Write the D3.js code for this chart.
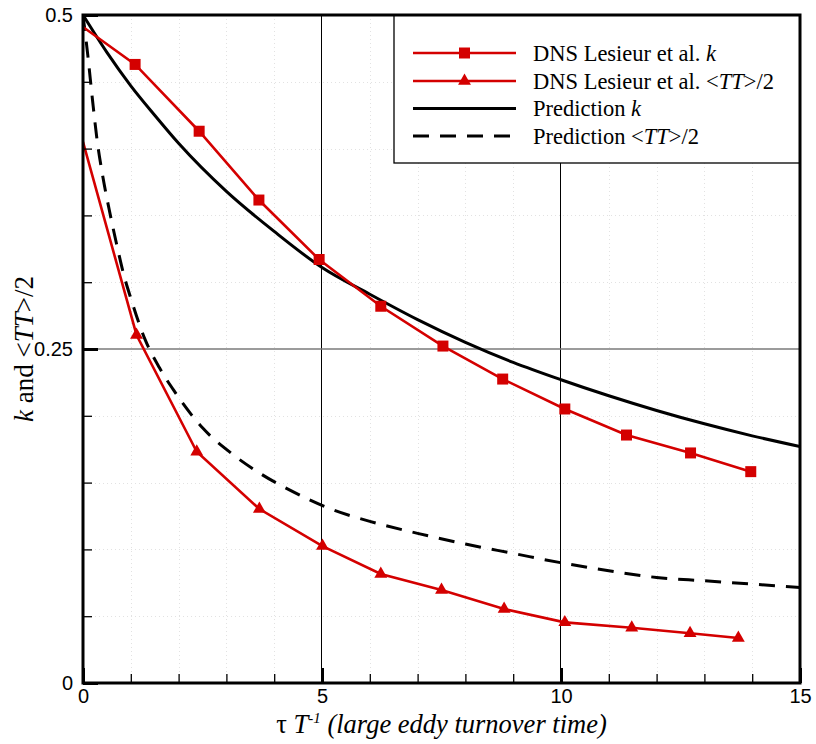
<!DOCTYPE html>
<html>
<head>
<meta charset="utf-8">
<script src="https://cdn.jsdelivr.net/npm/d3@7"></script>
<style>
  html, body { margin: 0; padding: 0; background: #fff; }
  svg { display: block; }
</style>
</head>
<body>
<svg id="chart" width="816" height="744"></svg>
<script>
// DNS (Lesieur et al.) turbulent kinetic energy k
const dnsKTime  = [0, 1.09, 2.43, 3.68, 4.94, 6.23, 7.53, 8.78, 10.08, 11.37, 12.71, 13.97];
const dnsKValue = [0.491, 0.463, 0.413, 0.3615, 0.317, 0.282, 0.2522, 0.2275, 0.2051, 0.1856, 0.1722, 0.1582];

// DNS (Lesieur et al.) <TT>/2
const dnsTTTime  = [0, 1.12, 2.38, 3.69, 5.01, 6.23, 7.50, 8.81, 10.08, 11.48, 12.70, 13.71];
const dnsTTValue = [0.405, 0.2605, 0.1731, 0.1302, 0.1025, 0.0816, 0.0696, 0.0554, 0.0454, 0.0414, 0.0372, 0.0337];

// Model prediction for k
const predKTime  = [0, 0.5, 1, 1.5, 2, 3, 4, 5, 6, 7, 8, 9, 10, 11, 12, 13, 14, 15];
const predKValue = [0.500, 0.472, 0.447, 0.425, 0.404, 0.368, 0.338, 0.311, 0.291, 0.272, 0.255, 0.240, 0.227, 0.215, 0.204, 0.194, 0.185, 0.177];

// Model prediction for <TT>/2
const predTTTime  = [0, 0.1, 0.2, 0.3, 0.4, 0.55, 0.7, 0.85, 1.0, 1.3, 1.6, 1.9, 2.5, 3.1, 3.7, 4.4, 5.2, 6.0, 7.0, 8.0, 9.0, 10.0, 11.0, 12.0, 13.0, 14.0, 15.0];
const predTTValue = [0.500, 0.470, 0.436, 0.405, 0.382, 0.354, 0.329, 0.306, 0.288, 0.257, 0.236, 0.219, 0.191, 0.172, 0.157, 0.143, 0.130, 0.121, 0.112, 0.104, 0.097, 0.090, 0.084, 0.079, 0.0765, 0.074, 0.0715];

// Axis ticks
const xMajorTicks = [0, 5, 10, 15];
const xMinorTicks = [1, 2, 3, 4, 6, 7, 8, 9, 11, 12, 13, 14];
const yMajorTicks = [0, 0.25, 0.5];
const yMinorTicks = [0.05, 0.1, 0.15, 0.2, 0.3, 0.35, 0.4, 0.45];
const yTickLabels = ["0", "0.25", "0.5"];

const legendLabels = [
  [{t: "DNS Lesieur et al. "}, {t: "k", i: true}],
  [{t: "DNS Lesieur et al. <"}, {t: "TT", i: true}, {t: ">/2"}],
  [{t: "Prediction "}, {t: "k", i: true}],
  [{t: "Prediction <"}, {t: "TT", i: true}, {t: ">/2"}]
];

const RED = "#d40000";
const svg = d3.select("#chart");
const m = {left: 83, top: 15, right: 16, bottom: 61};
const W = 816 - m.left - m.right;
const H = 744 - m.top - m.bottom;

const x = d3.scaleLinear().domain([0, 15]).range([0, W]);
const y = d3.scaleLinear().domain([0, 0.5]).range([H, 0]);

svg.append("rect").attr("width", 816).attr("height", 744).attr("fill", "#fff");

const g = svg.append("g").attr("transform", `translate(${m.left},${m.top})`);

g.append("defs").append("clipPath").attr("id", "plotClip")
  .append("rect").attr("x", 0).attr("y", 0).attr("width", W).attr("height", H);

// faint dotted minor grid
const grid = g.append("g");
grid.selectAll(".vmin").data(xMinorTicks).join("line")
  .attr("x1", d => Math.round(x(d)) + 0.5).attr("x2", d => Math.round(x(d)) + 0.5).attr("y1", 0).attr("y2", H)
  .attr("stroke", "#e2e2e2").attr("stroke-width", 1).attr("stroke-dasharray", "1,3");
grid.selectAll(".hmin").data(yMinorTicks).join("line")
  .attr("x1", 0).attr("x2", W).attr("y1", d => Math.round(y(d)) + 0.5).attr("y2", d => Math.round(y(d)) + 0.5)
  .attr("stroke", "#e2e2e2").attr("stroke-width", 1).attr("stroke-dasharray", "1,3");

// major grid
grid.selectAll(".vmaj").data([5, 10]).join("line")
  .attr("x1", d => Math.round(x(d)) - 0.5).attr("x2", d => Math.round(x(d)) - 0.5).attr("y1", 0).attr("y2", H)
  .attr("stroke", "#000").attr("stroke-width", 1);
grid.selectAll(".hmaj").data([0.25]).join("line")
  .attr("x1", 0).attr("x2", W).attr("y1", d => y(d)).attr("y2", d => y(d))
  .attr("stroke", "#7a7a7a").attr("stroke-width", 1.5);

const plot = g.append("g").attr("clip-path", "url(#plotClip)");

const zip = (ts, vs) => ts.map((t, i) => [t, vs[i]]);
const smooth = d3.line().x(d => x(d[0])).y(d => y(d[1])).curve(d3.curveMonotoneX);
const straight = d3.line().x(d => x(d[0])).y(d => y(d[1]));

// predictions
plot.append("path").datum(zip(predKTime, predKValue))
  .attr("d", smooth).attr("fill", "none").attr("stroke", "#000").attr("stroke-width", 3);
plot.append("path").datum(zip(predTTTime, predTTValue))
  .attr("d", smooth).attr("fill", "none").attr("stroke", "#000").attr("stroke-width", 3)
  .attr("stroke-dasharray", "16,11");

// DNS data
const kData = zip(dnsKTime, dnsKValue);
const ttData = zip(dnsTTTime, dnsTTValue);
plot.append("path").datum(kData).attr("d", straight)
  .attr("fill", "none").attr("stroke", RED).attr("stroke-width", 2.6);
plot.append("path").datum(ttData).attr("d", straight)
  .attr("fill", "none").attr("stroke", RED).attr("stroke-width", 2.6);

const sq = d3.symbol().type(d3.symbolSquare).size(121);
const tri = d3.symbol().type(d3.symbolTriangle).size(72);
// the t = 0 values sit on the axis and carry no marker
plot.selectAll(".sq").data(kData.filter(d => d[0] > 0)).join("path")
  .attr("transform", d => `translate(${x(d[0])},${y(d[1])})`)
  .attr("d", sq).attr("fill", RED);
plot.selectAll(".tri").data(ttData.filter(d => d[0] > 0)).join("path")
  .attr("transform", d => `translate(${x(d[0])},${y(d[1])})`)
  .attr("d", tri).attr("fill", RED);

// legend
const lg = g.append("g").attr("transform", `translate(${x(0) + 311},0)`);
lg.append("rect").attr("x", 0).attr("y", 0).attr("width", W - 311).attr("height", 148)
  .attr("fill", "#fff").attr("stroke", "#000").attr("stroke-width", 1.3);
const rowY = [38, 66, 93.5, 121];
const styles = [
  {c: RED, w: 2.6, dash: null, mk: sq},
  {c: RED, w: 2.6, dash: null, mk: tri},
  {c: "#000", w: 3, dash: null, mk: null},
  {c: "#000", w: 3, dash: "16,11", mk: null}
];
styles.forEach((s, i) => {
  const row = lg.append("g").attr("transform", `translate(0,${rowY[i]})`);
  row.append("line").attr("x1", 19).attr("x2", 122).attr("y1", 0).attr("y2", 0)
    .attr("stroke", s.c).attr("stroke-width", s.w)
    .attr("stroke-dasharray", s.dash);
  if (s.mk) row.append("path").attr("d", s.mk).attr("fill", s.c)
    .attr("transform", "translate(70.5,0)");
  const t = row.append("text").attr("x", 139).attr("y", 7.5)
    .attr("font-family", "'Liberation Serif', 'Times New Roman', serif")
    .attr("font-size", 22.5).attr("fill", "#000");
  legendLabels[i].forEach(p => t.append("tspan").text(p.t)
    .attr("font-style", p.i ? "italic" : "normal"));
});

// axes
const tickFont = "'Liberation Sans', Arial, Helvetica, sans-serif";
const xAxis = g.append("g").attr("transform", `translate(0,${H})`)
  .call(d3.axisBottom(x).tickValues(xMajorTicks).tickSizeInner(-15).tickSizeOuter(0)
    .tickPadding(6).tickFormat(d3.format("d")));
const xAxisMinor = g.append("g").attr("transform", `translate(0,${H})`)
  .call(d3.axisBottom(x).tickValues(xMinorTicks).tickSizeInner(-9).tickSizeOuter(0).tickFormat(""));
const yAxis = g.append("g")
  .call(d3.axisLeft(y).tickValues(yMajorTicks).tickSizeInner(-15).tickSizeOuter(0)
    .tickPadding(10).tickFormat((d, i) => yTickLabels[i]));
const yAxisMinor = g.append("g")
  .call(d3.axisLeft(y).tickValues(yMinorTicks).tickSizeInner(-9).tickSizeOuter(0).tickFormat(""));

[xAxis, xAxisMinor, yAxis, yAxisMinor].forEach(a => {
  a.select(".domain").remove();
  a.selectAll("text").attr("font-family", tickFont).attr("font-size", 20).attr("fill", "#000");
});
[xAxis, yAxis].forEach(a => a.selectAll(".tick line").attr("stroke", "#000").attr("stroke-width", 3));
[xAxisMinor, yAxisMinor].forEach(a => a.selectAll(".tick line").attr("stroke", "#000").attr("stroke-width", 1.3));

// frame
g.append("rect").attr("x", 0).attr("y", 0).attr("width", W).attr("height", H)
  .attr("fill", "none").attr("stroke", "#000").attr("stroke-width", 3);

// axis titles
const serif = "'Liberation Serif', 'Times New Roman', serif";
const xt = svg.append("text").attr("x", m.left + W / 2).attr("y", 733)
  .attr("text-anchor", "middle").attr("font-family", serif).attr("font-size", 26.5).attr("fill", "#000");
xt.append("tspan").text("τ ");
xt.append("tspan").text("T").attr("font-style", "italic");
xt.append("tspan").text("-1").attr("font-style", "italic").attr("font-size", 15).attr("dy", -10);
xt.append("tspan").text(" (large eddy turnover time)").attr("font-style", "italic").attr("dy", 10);

const yt = svg.append("text").attr("transform", "translate(33,349) rotate(-90)")
  .attr("text-anchor", "middle").attr("font-family", serif).attr("font-size", 27).attr("fill", "#000");
yt.append("tspan").text("k").attr("font-style", "italic");
yt.append("tspan").text(" and <");
yt.append("tspan").text("TT").attr("font-style", "italic");
yt.append("tspan").text(">/2");
</script>
</body>
</html>
